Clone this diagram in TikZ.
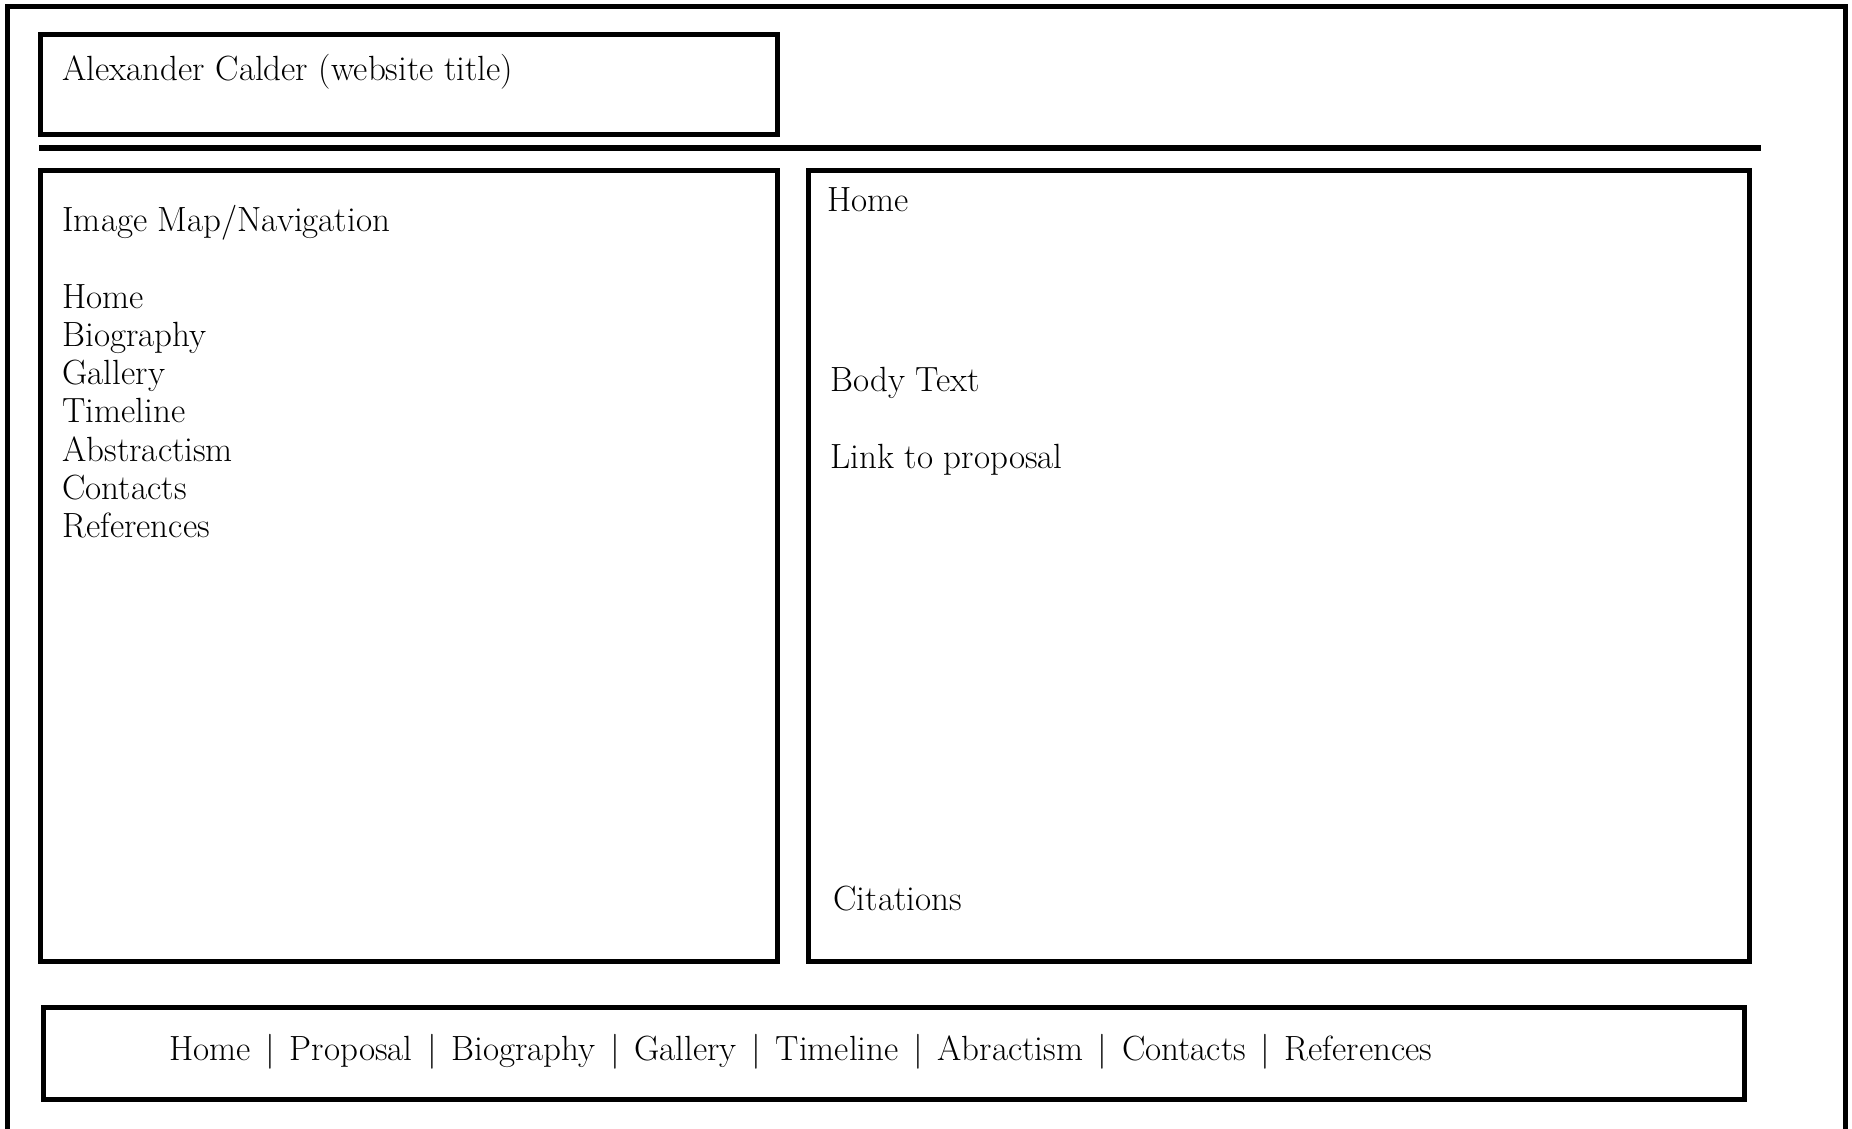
\documentclass[tikz,border=0pt]{standalone}
\newcommand{\barsep}{\hspace{4pt} | \hspace{4pt}}
\begin{document}
\begin{tikzpicture}[x=1pt,y=-1pt,line width=5pt,
  lbl/.style={anchor=base west,inner sep=0pt,font=\fontsize{35}{42}\selectfont}]
\useasboundingbox (0,0) rectangle (1852,1129);
% page frame, open at the bottom
\draw (7,1140) -- (7,7) -- (1845,7) -- (1845,1140);
% header
\draw (40,35) rectangle (777,135);
\node[lbl] (title) at (60,81) {Alexander Calder (website title)};
\draw (39,148) -- (1761,148);
% navigation column
\draw (40,170) rectangle (777,961);
\node[lbl] (navhead) at (60,231) {Image Map/Navigation};
\foreach \item [count=\i] in {Home,Biography,Gallery,Timeline,Abstractism,Contacts,References}
  \node[lbl] (nav\i) at (60,{308+38.3*(\i-1)}) {\item};
% content column
\draw (808,170) rectangle (1749,961);
\node[lbl] (page) at (825,211) {Home};
\node[lbl] (body) at (828,391) {Body Text};
\node[lbl] (link) at (828,468) {Link to proposal};
\node[lbl] (cite) at (831,910) {Citations};
% footer
\draw (43,1007) rectangle (1744,1099);
\node[lbl] (footer) at (167,1060) {Home\barsep Proposal\barsep Biography\barsep Gallery\barsep Timeline\barsep Abractism\barsep Contacts\barsep References};
\end{tikzpicture}
\end{document}
